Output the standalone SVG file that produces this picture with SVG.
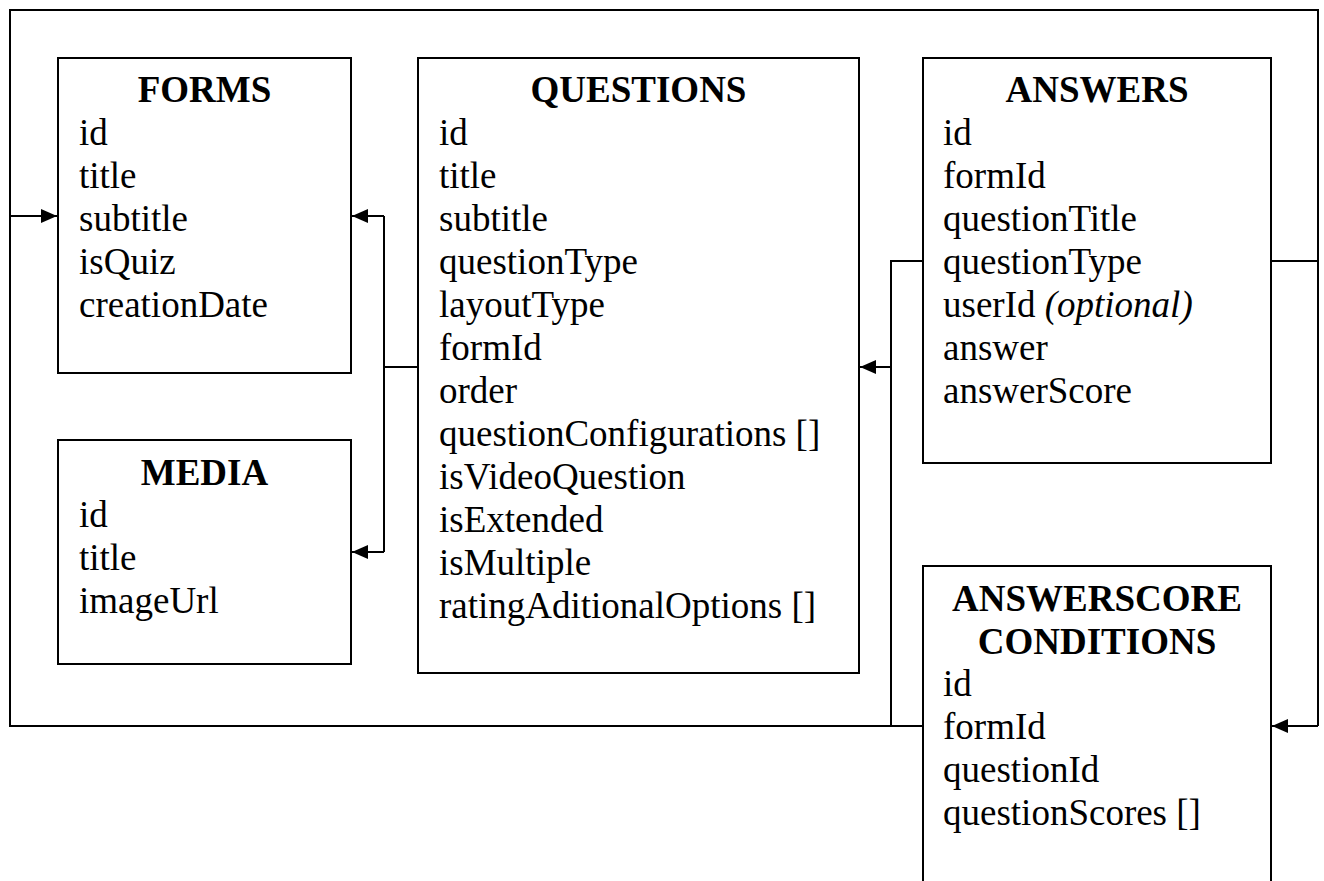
<svg xmlns="http://www.w3.org/2000/svg" width="1324" height="881" viewBox="0 0 1324 881">
<style>
.box{fill:#fff;stroke:#000;stroke-width:2}
.t{font-family:"Liberation Serif","Times New Roman","DejaVu Serif",serif;font-size:37px;fill:#000}
.h{font-weight:bold;text-anchor:middle}
.ln{fill:none;stroke:#000;stroke-width:2}
</style>
<defs>
<marker id="arr" markerUnits="userSpaceOnUse" markerWidth="17" markerHeight="15" refX="16" refY="7" orient="auto">
<path d="M0,0 L16,7 L0,14 Z" fill="#000"/>
</marker>
</defs>
<rect width="1324" height="881" fill="#fff"/>
<g id="connectors">
<path class="ln" d="M10,216 V10 H1318 V726"/>
<path class="ln" d="M1271,261 H1318"/>
<path class="ln" d="M1318,726 H1272" marker-end="url(#arr)"/>
<path class="ln" d="M923,726 H10 V216 H57" marker-end="url(#arr)"/>
<path class="ln" d="M923,261 H891 V726"/>
<path class="ln" d="M891,367 H860" marker-end="url(#arr)"/>
<path class="ln" d="M418,367 H384"/>
<path class="ln" d="M384,216 V552"/>
<path class="ln" d="M384,216 H352" marker-end="url(#arr)"/>
<path class="ln" d="M384,552 H352" marker-end="url(#arr)"/>
</g>
<g id="forms">
<rect class="box" x="58" y="58" width="293" height="315"/>
<text class="t h" x="204.5" y="102">FORMS</text>
<text class="t" x="79" y="145">id</text>
<text class="t" x="79" y="188">title</text>
<text class="t" x="79" y="231">subtitle</text>
<text class="t" x="79" y="274">isQuiz</text>
<text class="t" x="79" y="317">creationDate</text>
</g>
<g id="media">
<rect class="box" x="58" y="440" width="293" height="224"/>
<text class="t h" x="204.5" y="485">MEDIA</text>
<text class="t" x="79" y="527">id</text>
<text class="t" x="79" y="570">title</text>
<text class="t" x="79" y="613">imageUrl</text>
</g>
<g id="questions">
<rect class="box" x="418" y="58" width="441" height="615"/>
<text class="t h" x="638.5" y="102">QUESTIONS</text>
<text class="t" x="439" y="145">id</text>
<text class="t" x="439" y="188">title</text>
<text class="t" x="439" y="231">subtitle</text>
<text class="t" x="439" y="274">questionType</text>
<text class="t" x="439" y="317">layoutType</text>
<text class="t" x="439" y="360">formId</text>
<text class="t" x="439" y="403">order</text>
<text class="t" x="439" y="446">questionConfigurations []</text>
<text class="t" x="439" y="489">isVideoQuestion</text>
<text class="t" x="439" y="532">isExtended</text>
<text class="t" x="439" y="575">isMultiple</text>
<text class="t" x="439" y="618">ratingAditionalOptions []</text>
</g>
<g id="answers">
<rect class="box" x="923" y="58" width="348" height="405"/>
<text class="t h" x="1097" y="102">ANSWERS</text>
<text class="t" x="943" y="145">id</text>
<text class="t" x="943" y="188">formId</text>
<text class="t" x="943" y="231">questionTitle</text>
<text class="t" x="943" y="274">questionType</text>
<text class="t" x="943" y="317">userId <tspan font-style="italic">(optional)</tspan></text>
<text class="t" x="943" y="360">answer</text>
<text class="t" x="943" y="403">answerScore</text>
</g>
<g id="answerscoreconditions">
<rect class="box" x="923" y="566" width="348" height="340"/>
<text class="t h" x="1097" y="611">ANSWERSCORE</text>
<text class="t h" x="1097" y="654">CONDITIONS</text>
<text class="t" x="943" y="696">id</text>
<text class="t" x="943" y="739">formId</text>
<text class="t" x="943" y="782">questionId</text>
<text class="t" x="943" y="825">questionScores []</text>
</g>
</svg>
